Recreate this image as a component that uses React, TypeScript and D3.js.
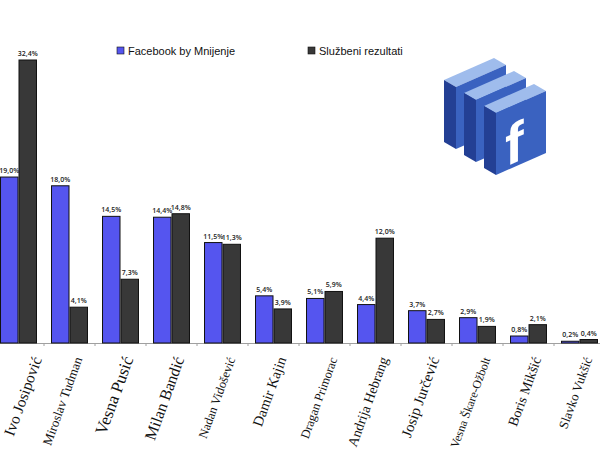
import { useEffect, useRef } from 'react';
import * as d3 from 'd3';

const candidates = [
  'Ivo Josipović', 'Miroslav Tudman', 'Vesna Pusić', 'Milan Bandić', 'Nadan Vidošević',
  'Damir Kajin', 'Dragan Primorac', 'Andrija Hebrang', 'Josip Jurčević', 'Vesna Škare-Ožbolt',
  'Boris Mikšić', 'Slavko Vukšić',
];
const facebookPoll = [19.0, 18.0, 14.5, 14.4, 11.5, 5.4, 5.1, 4.4, 3.7, 2.9, 0.8, 0.2];
const officialResults = [32.4, 4.1, 7.3, 14.8, 11.3, 3.9, 5.9, 12.0, 2.7, 1.9, 2.1, 0.4];
const seriesNames = ['Facebook by Mnijenje', 'Službeni rezultati'];

// label font sizes differ in the original picture
const labelSizes = [15.5, 13, 17, 16, 12.5, 14.5, 12.5, 14, 15, 12, 14, 13];

const W = 600;
const H = 450;
const colors = ['#5555ef', '#383838'];

export default function App() {
  const svgRef = useRef<SVGSVGElement>(null);

  useEffect(() => {
    if (!svgRef.current) return;
    const svg = d3.select(svgRef.current);
    svg.selectAll('*').remove();

    const baseY = 343;
    const x = d3.scaleBand<string>()
      .domain(candidates)
      .range([-7, 605])
      .paddingInner(0.275)
      .paddingOuter(0.1375);
    const xs = d3.scaleBand<string>()
      .domain(seriesNames)
      .range([0, x.bandwidth()]);
    const y = d3.scaleLinear().domain([0, 32.4]).range([baseY, 60]);

    const rows = candidates.map((c, i) => ({ name: c, values: [facebookPoll[i], officialResults[i]] }));

    // axis line
    svg.append('line')
      .attr('x1', 0).attr('x2', W).attr('y1', baseY + 0.5).attr('y2', baseY + 0.5)
      .attr('stroke', '#a0a0a0').attr('stroke-width', 1);
    svg.append('g').selectAll('line')
      .data(candidates)
      .join('line')
      .attr('x1', d => (x(d) || 0) + x.bandwidth() + x.step() * 0.1375)
      .attr('x2', d => (x(d) || 0) + x.bandwidth() + x.step() * 0.1375)
      .attr('y1', baseY).attr('y2', baseY + 3)
      .attr('stroke', '#a0a0a0');

    const groups = svg.append('g').selectAll('g')
      .data(rows)
      .join('g')
      .attr('transform', d => `translate(${x(d.name)},0)`);

    groups.selectAll('rect')
      .data(d => d.values.map((v, k) => ({ v, k })))
      .join('rect')
      .attr('x', d => (xs(seriesNames[d.k]) || 0) + 0.5)
      .attr('y', d => y(d.v))
      .attr('width', xs.bandwidth() - 1)
      .attr('height', d => baseY - y(d.v))
      .attr('fill', d => colors[d.k])
      .attr('stroke', '#111')
      .attr('stroke-width', 1);

    groups.selectAll('text')
      .data(d => d.values.map((v, k) => ({ v, k })))
      .join('text')
      .attr('x', d => (xs(seriesNames[d.k]) || 0) + xs.bandwidth() / 2)
      .attr('y', d => y(d.v) - 4)
      .attr('text-anchor', 'middle')
      .attr('font-family', 'Open Sans, sans-serif')
      .attr('font-size', 7)
      .attr('font-weight', 600)
      .attr('fill', '#222')
      .text(d => d3.format('.1f')(d.v).replace('.', ',') + '%');

    // category labels (the first one is pushed in from the left edge)
    svg.append('g').selectAll('text')
      .data(candidates)
      .join('text')
      .attr('transform', d => {
        const ax = Math.max((x(d) || 0) + x.bandwidth() / 2 + 13, 42);
        return `translate(${ax},359) rotate(-70)`;
      })
      .attr('text-anchor', 'end')
      .attr('font-family', 'Liberation Serif, serif')
      .attr('font-size', (_d, i) => labelSizes[i])
      .attr('fill', '#111')
      .text(d => d);

    // legend
    const legendX = [117, 308];
    const legend = svg.append('g').selectAll('g')
      .data(seriesNames)
      .join('g')
      .attr('transform', (_d, i) => `translate(${legendX[i]},47)`);
    legend.append('rect')
      .attr('width', 7).attr('height', 7)
      .attr('fill', (_d, i) => colors[i])
      .attr('stroke', '#111').attr('stroke-width', 0.6);
    legend.append('text')
      .attr('x', 11).attr('y', 7.5)
      .attr('font-family', 'Liberation Sans, Arial, sans-serif')
      .attr('font-size', 11)
      .attr('fill', '#111')
      .text(d => d);

    // facebook logo blocks
    const logo = svg.append('g');
    const blocks = [0, 1, 2];
    blocks.forEach(i => {
      const ox = 444 + i * 20;
      const oy = 80 + i * 13;
      const pts = (p: number[][]) => p.map(q => q.join(',')).join(' ');
      logo.append('polygon')
        .attr('points', pts([[ox, oy], [ox + 50, oy - 22], [ox + 62, oy - 15], [ox + 12, oy + 7]]))
        .attr('fill', '#9fbcec');
      logo.append('polygon')
        .attr('points', pts([[ox, oy], [ox + 12, oy + 7], [ox + 12, oy + 69], [ox, oy + 62]]))
        .attr('fill', '#233f94');
      logo.append('polygon')
        .attr('points', pts([[ox + 12, oy + 7], [ox + 62, oy - 15], [ox + 62, oy + 47], [ox + 12, oy + 69]]))
        .attr('fill', '#3a62c0');
    });
    logo.append('text')
      .attr('transform', 'translate(505,167) skewY(-24)')
      .attr('font-family', 'Liberation Sans, Arial, sans-serif')
      .attr('font-weight', 'bold')
      .attr('font-size', 56)
      .attr('fill', '#fff')
      .text('f');
  }, []);

  return (
    <svg ref={svgRef} width={W} height={H} viewBox={`0 0 ${W} ${H}`}
      style={{ position: 'absolute', left: 0, top: 0, background: '#fff' }} />
  );
}
